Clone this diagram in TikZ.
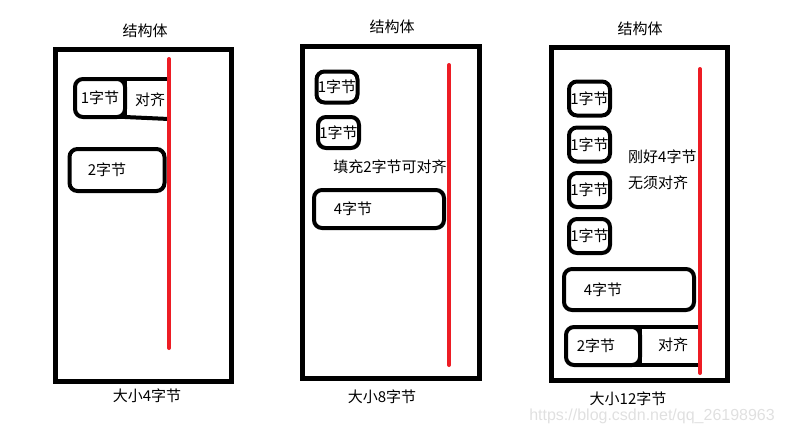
\documentclass[tikz,border=0pt]{standalone}
\usepackage{fontspec}
\newfontfamily\cjk{Noto Sans CJK SC}
\newfontfamily\wmfont{Liberation Sans}
\usetikzlibrary{positioning}
\definecolor{paintred}{RGB}{237,28,36}
\tikzset{
  txt/.style={inner sep=0pt,font=\cjk\fontsize{15}{18}\selectfont},
  % Ramme for strukturen
  frame/.style={draw,rectangle,line width=5pt,inner sep=0pt,outer sep=0pt},
  % Medlemmer
  cell/.style={draw,rectangle,rounded corners=8pt,line width=4pt,inner sep=0pt,outer sep=0pt,font=\cjk\fontsize{15}{18}\selectfont},
  padline/.style={line width=4pt},
  redline/.style={draw=paintred,line width=4pt,line cap=round},
}
\begin{document}
\begin{tikzpicture}[x=1pt,y=-1pt]
  \useasboundingbox (0,0) rectangle (785,432);
  % struktur 1
  \node[frame,minimum width=176pt,minimum height=332pt] (s1) at (143,215) {};
  \node[txt] (t1) at (145,31) {结构体};
  \node[txt] (l1) at (147,396) {大小4字节};
  \coordinate (r1a) at (169,59); \coordinate (r1b) at (169,348);
  \node[cell,minimum width=50pt,minimum height=38pt] (a1) at (100,98) {};
  \node[txt] at (a1.center) {1字节};
  \draw[padline] ([xshift=-9pt]a1.north east) -- (a1.north east) -- (a1.south east) -- ([xshift=-9pt]a1.south east);
  \draw[padline] (a1.north east) -- (a1.north east -| r1a);
  \draw[padline] (a1.south east) -- ([yshift=-2pt]a1.south east -| r1a);
  \node[txt] (p1) at (150,100) {对齐};
  \node[cell,minimum width=95pt,minimum height=42pt] (c1) at (117,170) {};
  \node[txt] at ([xshift=-10pt]c1.center) {2字节};
  \draw[redline] (r1a) -- (r1b);
  % struktur 2
  \node[frame,minimum width=177pt,minimum height=332pt] (s2) at (390.5,212) {};
  \node[txt] (t2) at (392,27) {结构体};
  \node[txt] (l2) at (382,397) {大小8字节};
  \coordinate (r2a) at (449,65); \coordinate (r2b) at (449,365);
  \node[cell,minimum width=41pt,minimum height=31pt] (a2) at (337,87) {};
  \node[txt] at (a2.center) {1字节};
  \node[cell,minimum width=41pt,minimum height=31pt] (b2) at (338.5,132.5) {};
  \node[txt] at (b2.center) {1字节};
  \node[txt] (n2) at (390,167) {填充2字节可对齐};
  \node[cell,minimum width=130pt,minimum height=38pt] (d2) at (379,209) {};
  \node[txt] at ([xshift=-26pt]d2.center) {4字节};
  \draw[redline] (r2a) -- (r2b);
  % struktur 3
  \node[frame,minimum width=176pt,minimum height=333pt] (s3) at (639,213.5) {};
  \node[txt] (t3) at (640,29) {结构体};
  \node[txt] (l3) at (628,399) {大小12字节};
  \coordinate (r3a) at (700,69); \coordinate (r3b) at (700,373);
  \foreach \y/\n in {98.5/1,144.5/2,190/3,236/4}
    \node[cell,minimum width=41pt,minimum height=34pt] (a3\n) at (589.5,\y) {1字节};
  \node[txt,anchor=west] (n3a) at (628,157) {刚好4字节};
  \node[txt,anchor=west] (n3b) at (628,183) {无须对齐};
  \node[cell,minimum width=130pt,minimum height=41pt] (d3) at (629,289.5) {};
  \node[txt] at ([xshift=-26pt]d3.center) {4字节};
  \node[cell,minimum width=74pt,minimum height=38pt] (e3) at (603,346) {};
  \node[txt] at ([xshift=-7pt]e3.center) {2字节};
  \draw[padline] ([xshift=-9pt]e3.north east) -- (e3.north east) -- (e3.south east) -- ([xshift=-9pt]e3.south east);
  \draw[padline] (e3.north east) -- (e3.north east -| r3a);
  \draw[padline] (e3.south east) -- (e3.south east -| r3a);
  \node[txt] (p3) at (673,345) {对齐};
  \draw[redline] (r3a) -- (r3b);
  % vassmerke
  \node[inner sep=0pt,text=black!12,font=\wmfont\fontsize{16}{18}\selectfont,anchor=east] (wm) at (775,416) {https://blog.csdn.net/qq\_26198963};
\end{tikzpicture}
\end{document}
